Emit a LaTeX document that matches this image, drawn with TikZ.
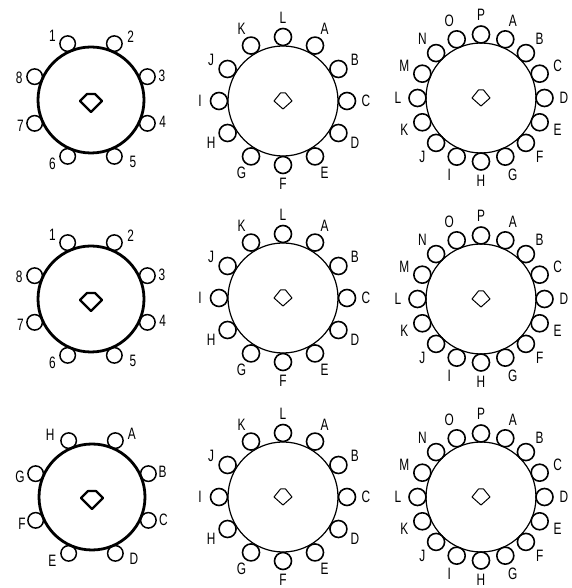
\documentclass[tikz,border=0pt]{standalone}
\usepackage{fontspec}
\setmainfont[FakeStretch=0.72]{Liberation Sans}

\begin{document}
\begin{tikzpicture}[x=1pt,y=1pt,line join=round,
	table8/.style={draw,circle,line width=2.8pt,minimum size=106pt,inner sep=0pt},
	table/.style={draw,circle,line width=1.2pt,minimum size=110pt,inner sep=0pt},
	seat8/.style={draw,circle,line width=1.5pt,minimum size=15.5pt,inner sep=0pt},
	seat/.style={draw,circle,line width=1.6pt,minimum size=17pt,inner sep=0pt},
	seatlabel/.style={inner sep=0pt,font=\fontsize{16.5}{18}\selectfont},
	plate/.style={line width=2.2pt},
	smallplate/.style={line width=1pt}]
	\useasboundingbox (0,0) rectangle (571,588);
	% eight seats, numbered
	\foreach \yy/\r in {488/1,289/2} {
		\node[table8] (t\r-a) at (91,\yy) {};
		\draw[plate] (t\r-a.center) ++(0,-12) -- ++(-11,11) -- ++(7,7) -- ++(8,0) -- ++(7,-7) -- cycle;
		\foreach \a/\la/\t in {112.5/121/1,67.5/58/2,22.5/19/3,-22.5/-17/4,-67.5/-56/5,-112.5/-121/6,-157.5/-160/7,157.5/163/8} {
			\node[seat8] (s\r-a-\t) at ([shift={(\a:61)}]t\r-a.center) {};
			\node[seatlabel] (n\r-a-\t) at ([shift={(\la:75)}]t\r-a.center) {\t};
		}
	}
	% eight seats, lettered
	\node[table8] (t3-a) at (92,91) {};
	\draw[plate] (t3-a.center) ++(0,-12) -- ++(-11,11) -- ++(7,7) -- ++(8,0) -- ++(7,-7) -- cycle;
	\foreach \a/\la/\t in {67.5/58/A,22.5/20/B,-22.5/-18/C,-67.5/-56/D,-112.5/-122/E,-157.5/-159/F,157.5/164/G,112.5/124/H} {
		\node[seat8] (s3-a-\t) at ([shift={(\a:61)}]t3-a.center) {};
		\node[seatlabel] (n3-a-\t) at ([shift={(\la:75)}]t3-a.center) {\t};
	}
	% twelve seats
	\foreach \yy/\r in {487/1,290/2,91/3} {
		\node[table] (t\r-b) at (283,\yy) {};
		\draw[smallplate] (t\r-b.center) ++(0,-8) -- ++(-9,8) -- ++(6.5,8) -- ++(5,0) -- ++(6.5,-8) -- cycle;
		\foreach \t [count=\i, evaluate=\i as \a using 90-30*\i] in {A,B,C,D,E,F,G,H,I,J,K,L} {
			\node[seat] (s\r-b-\t) at ([shift={(\a:64)}]t\r-b.center) {};
			\node[seatlabel] (n\r-b-\t) at ([shift={(\a:83)}]t\r-b.center) {\t};
		}
	}
	% sixteen seats
	\foreach \yy/\r in {490/1,289/2,91/3} {
		\node[table] (t\r-c) at (481,\yy) {};
		\draw[smallplate] (t\r-c.center) ++(0,-8) -- ++(-9,8) -- ++(6.5,8) -- ++(5,0) -- ++(6.5,-8) -- cycle;
		\foreach \t [count=\i, evaluate=\i as \a using 90-22.5*\i] in {A,B,C,D,E,F,G,H,I,J,K,L,M,N,O,P} {
			\node[seat] (s\r-c-\t) at ([shift={(\a:63.5)}]t\r-c.center) {};
			\node[seatlabel] (n\r-c-\t) at ([shift={(\a:83)}]t\r-c.center) {\t};
		}
	}
\end{tikzpicture}
\end{document}
